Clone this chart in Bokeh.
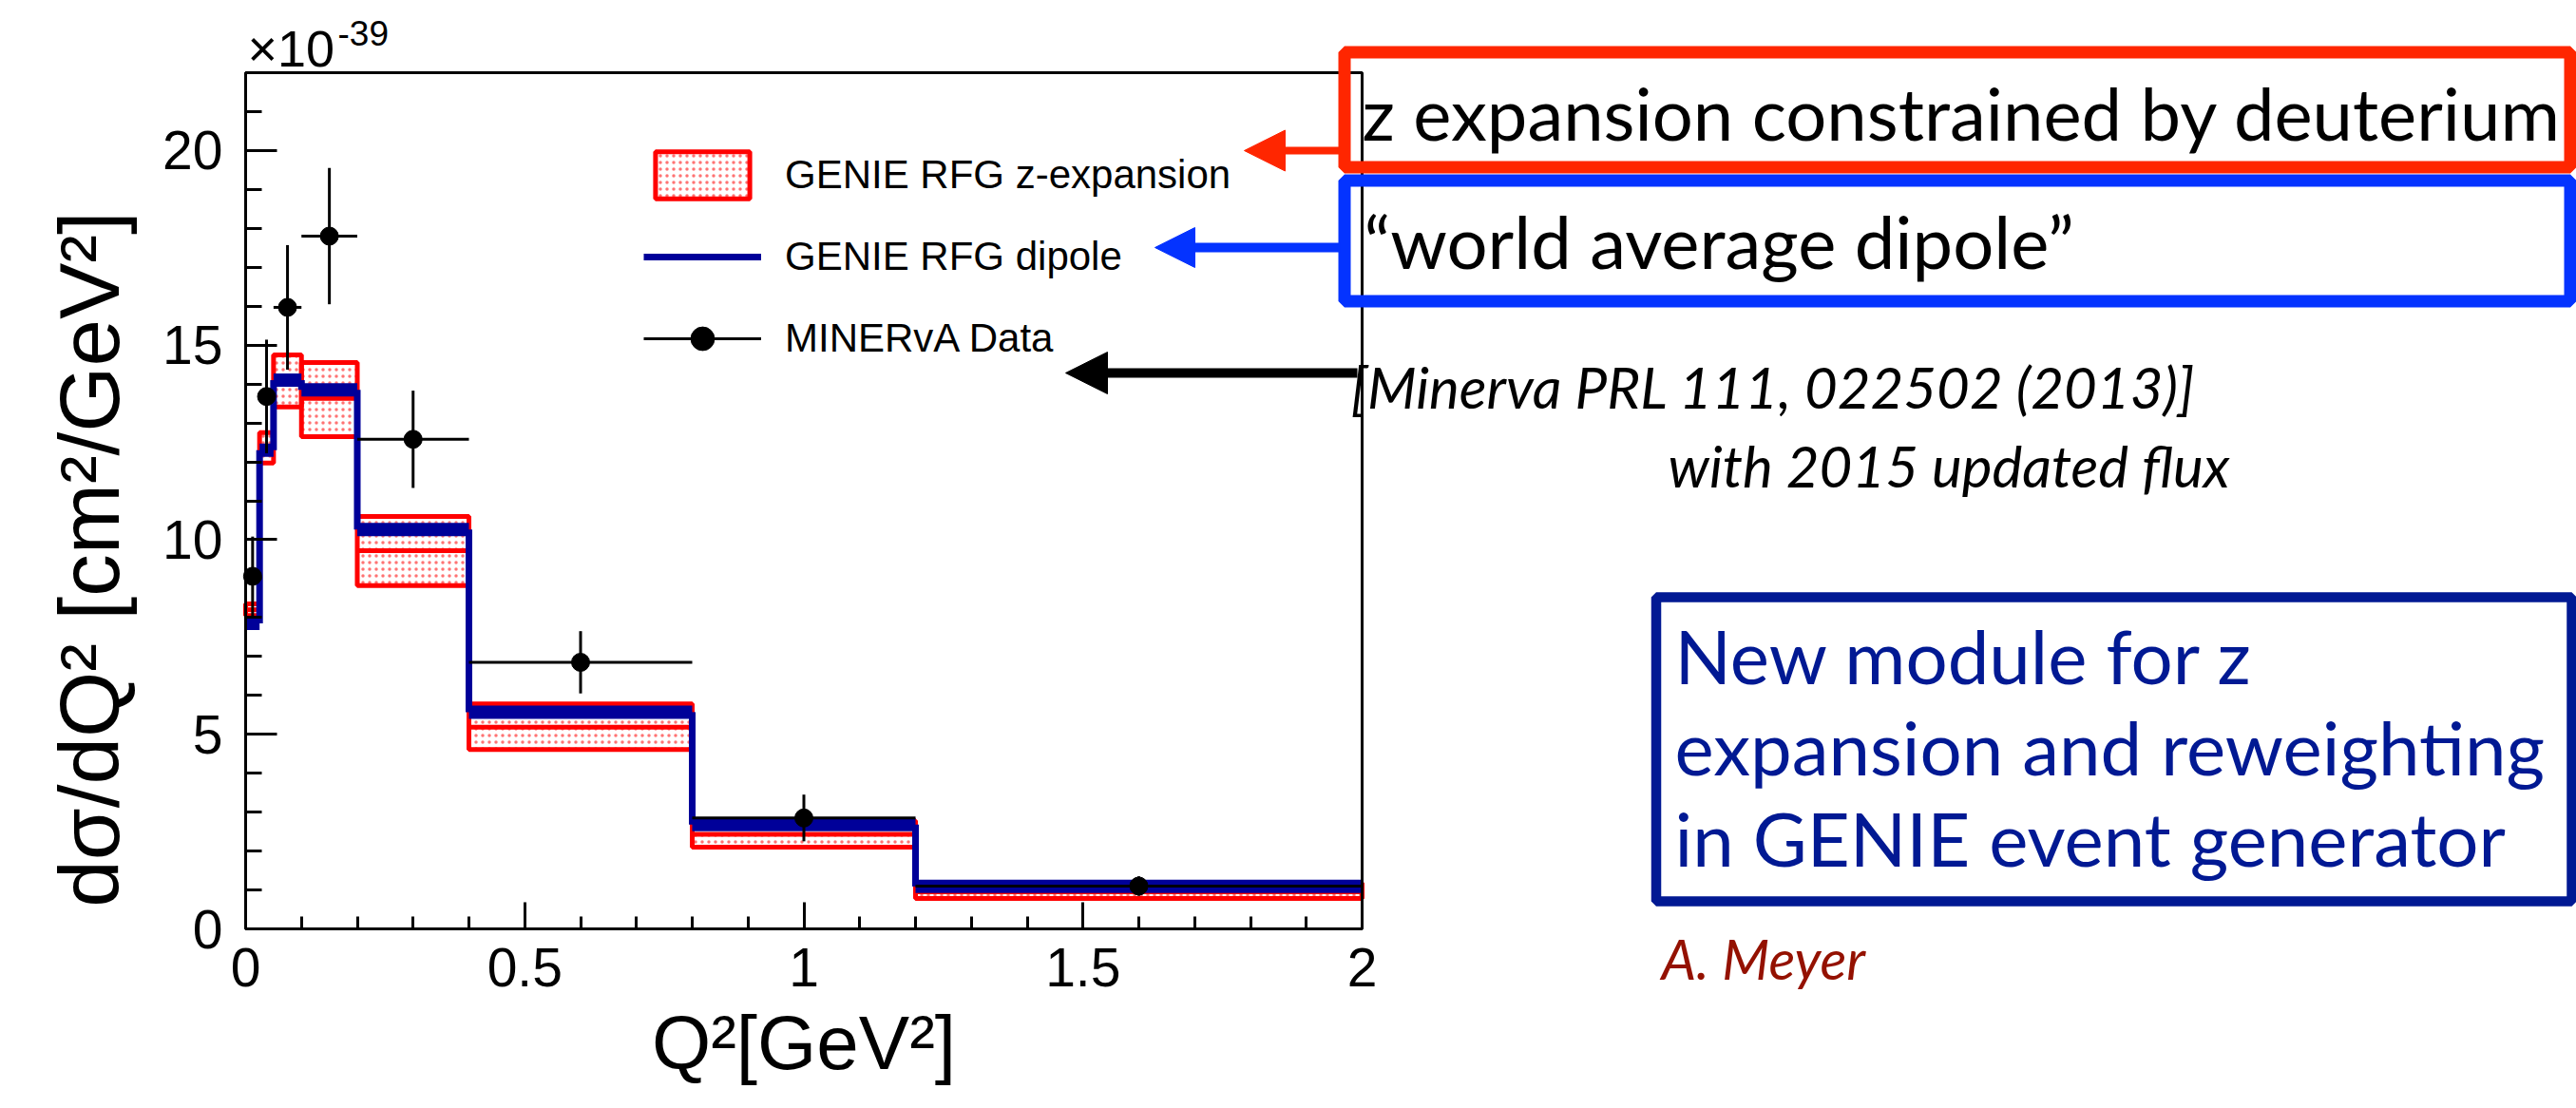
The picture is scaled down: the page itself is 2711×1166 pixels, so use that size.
from bokeh.plotting import figure
from bokeh.models import (Range1d, FixedTicker, Label, BoxAnnotation, Arrow,
                          NormalHead, Legend, LegendItem, ColumnDataSource, LinearAxis)
from bokeh.embed import file_html
from bokeh.resources import INLINE

# ---------------- data (x 1e-39 cm^2/GeV^2) ----------------
bin_edges = [0.0, 0.025, 0.05, 0.1, 0.2, 0.4, 0.8, 1.2, 2.0]
dipole = [7.85, 12.3, 14.1, 13.85, 10.26, 5.57, 2.68, 1.09]
zexp_upper = [8.35, 12.75, 14.75, 14.55, 10.6, 5.78, 2.78, 1.18]
zexp_central = [8.2, 12.4, 14.05, 13.63, 9.72, 5.18, 2.43, 0.95]
zexp_lower = [8.05, 11.97, 13.41, 12.65, 8.82, 4.61, 2.10, 0.78]
data_q2 = [0.0125, 0.0375, 0.075, 0.15, 0.3, 0.6, 1.0, 1.6]
data_xsec = [9.06, 13.68, 15.97, 17.8, 12.58, 6.85, 2.85, 1.1]
data_err = [1.02, 1.46, 1.6, 1.75, 1.25, 0.8, 0.6, 0.25]

x_ticks = [0, 0.5, 1, 1.5, 2]
x_tick_labels = ["0", "0.5", "1", "1.5", "2"]
y_ticks = [0, 5, 10, 15, 20]
y_tick_labels = ["0", "5", "10", "15", "20"]
x_min, x_max = 0, 2
y_min, y_max = 0, 22

# ---------------- layout (canvas pixels) ----------------
W, H = 2711, 1166
FL, FR, FT, FB = 258, 1433, 76, 977          # ROOT frame on the canvas
kx = (FR - FL) / (x_max - x_min)
ky = (FB - FT) / (y_max - y_min)
DESC = 0.213                                  # font descent (em) used to place baselines


def sx(X):
    return X


def sy(Y):
    return H - Y


ROOT_FONT = "Liberation Sans"
SLIDE_FONT = "Lato"
RED, BLUE, NAVY, CAY = "#FF2600", "#0433FF", "#011993", "#941100"

p = figure(width=W, height=H, output_backend="svg", toolbar_location=None,
           title=None,
           x_range=Range1d(x_min - FL / kx, x_max + (W - FR) / kx),
           y_range=Range1d(y_min - (H - FB) / ky, y_max + FT / ky),
           min_border=0, min_border_left=0, min_border_right=0,
           min_border_top=0, min_border_bottom=0,
           background_fill_color="white", border_fill_color="white")
p.grid.visible = False
p.outline_line_color = None

# axes (drawn at the ROOT frame edges, limited to the data span)
p.xaxis.fixed_location = y_min
p.yaxis.fixed_location = x_min
p.xaxis.bounds = (x_min, x_max)
p.yaxis.bounds = (y_min, y_max)
p.xaxis.ticker = FixedTicker(ticks=x_ticks, minor_ticks=[i / 10 for i in range(21)])
p.yaxis.ticker = FixedTicker(ticks=y_ticks, minor_ticks=list(range(23)))
p.xaxis.major_label_overrides = {t: s for t, s in zip(x_ticks, x_tick_labels)}
p.yaxis.major_label_overrides = {t: s for t, s in zip(y_ticks, y_tick_labels)}
for ax in (p.xaxis, p.yaxis):
    ax.axis_line_width = 3
    ax.major_tick_line_width = 3
    ax.minor_tick_line_width = 3
    ax.major_tick_out = 0
    ax.minor_tick_out = 0
    ax.major_label_text_font = ROOT_FONT
    ax.major_label_text_font_size = "57px"
    ax.major_label_text_color = "black"
    ax.axis_label_text_font = ROOT_FONT
    ax.axis_label_text_font_style = "normal"
    ax.axis_label_text_color = "black"
p.xaxis.axis_label_text_font_size = "80px"
p.xaxis.major_tick_in = 28
p.xaxis.minor_tick_in = 13
p.yaxis.major_tick_in = 33
p.yaxis.minor_tick_in = 17
p.xaxis.major_label_standoff = 20
p.yaxis.major_label_standoff = 24
p.xaxis.axis_label = "Q²[GeV²]"
p.xaxis.axis_label_standoff = 12

# y title carried by a label-only axis (ROOT places it a little below centre)
ytitle_axis = LinearAxis(fixed_location=x_min, bounds=(y_min, 19.0),
                         ticker=FixedTicker(ticks=[]),
                         axis_line_color=None, major_tick_line_color=None,
                         minor_tick_line_color=None, major_tick_out=0, minor_tick_out=0,
                         major_tick_in=0, minor_tick_in=0,
                         major_label_text_font_size="0px",
                         axis_label="dσ/dQ² [cm²/GeV²]", axis_label_standoff=115,
                         axis_label_text_font=ROOT_FONT, axis_label_text_font_size="89px",
                         axis_label_text_font_style="normal",
                         axis_label_text_color="black")
p.add_layout(ytitle_axis, "left")

# ROOT frame box
p.add_layout(BoxAnnotation(left=x_min, right=x_max, bottom=y_min, top=y_max,
                           fill_color=None, fill_alpha=0, line_color="black",
                           line_width=3, line_alpha=1))

# ---------------- glyphs ----------------
band_src = ColumnDataSource(dict(left=bin_edges[:-1], right=bin_edges[1:],
                                 top=zexp_upper, bottom=zexp_lower, mid=zexp_central))
band = p.quad(left="left", right="right", top="top", bottom="bottom", source=band_src,
              fill_color=None, hatch_pattern="dot", hatch_color="red", hatch_scale=7,
              hatch_weight=1.0, hatch_alpha=0.55, line_color="red", line_width=5)
p.segment(x0="left", x1="right", y0="mid", y1="mid", source=band_src,
          line_color="red", line_width=5)

DIP = "#000099"
dip_src = ColumnDataSource(dict(left=bin_edges[:-1], right=bin_edges[1:], y=dipole))
p.segment(x0="left", x1="right", y0="y", y1="y", source=dip_src,
          line_color=DIP, line_width=14)
step_src = ColumnDataSource(dict(x=bin_edges[1:-1], y0=dipole[:-1], y1=dipole[1:]))
dip_v = p.segment(x0="x", x1="x", y0="y0", y1="y1", source=step_src,
                  line_color=DIP, line_width=7)

dat_src = ColumnDataSource(dict(
    x=data_q2, y=data_xsec, left=bin_edges[:-1], right=bin_edges[1:],
    lo=[v - e for v, e in zip(data_xsec, data_err)],
    hi=[v + e for v, e in zip(data_xsec, data_err)]))
xerr = p.segment(x0="left", x1="right", y0="y", y1="y", source=dat_src,
                 line_color="black", line_width=3)
p.segment(x0="x", x1="x", y0="lo", y1="hi", source=dat_src,
          line_color="black", line_width=3)
pts = p.scatter(x="x", y="y", source=dat_src, size=19, marker="circle",
                fill_color="black", line_color="black")

legend = Legend(items=[
    LegendItem(label="GENIE RFG z-expansion", renderers=[band]),
    LegendItem(label="GENIE RFG dipole", renderers=[dip_v]),
    LegendItem(label="MINERvA Data", renderers=[xerr, pts]),
], location=(sx(677), sy(387)), glyph_width=124, glyph_height=62, spacing=24,
    padding=0, margin=0, label_standoff=25, label_text_font=ROOT_FONT,
    label_text_font_size="42px", label_text_baseline="middle",
    label_text_color="black",
    border_line_color=None, background_fill_alpha=0)
p.add_layout(legend)


def label(X, Y, s, size, font, color="black", style="normal"):
    # Y is the wanted baseline on the canvas
    p.add_layout(Label(x=sx(X), y=sy(Y + DESC * size), x_units="screen",
                       y_units="screen", text=s, text_font=font,
                       text_font_size=f"{size}px", text_font_style=style,
                       text_color=color, text_align="left",
                       text_baseline="bottom"))


# exponent of the y axis
label(260, 69, "×10", 54, ROOT_FONT)
label(355, 40, "-39", 37, ROOT_FONT)


# ---------------- slide annotations ----------------
def box(l, t, r, b, color, lw):
    p.add_layout(BoxAnnotation(left=sx(l), right=sx(r), top=sy(t), bottom=sy(b),
                               left_units="screen", right_units="screen",
                               top_units="screen", bottom_units="screen",
                               fill_alpha=0, fill_color=None,
                               line_color=color, line_width=lw, line_alpha=1))


box(1414.5, 54.5, 2704.5, 175.5, RED, 13)
box(1414.5, 189.5, 2704.5, 316.5, BLUE, 13)
box(1742.5, 628, 2706, 948, NAVY, 10.5)


def arrow(x0, x1, y, color, lw, size):
    p.add_layout(Arrow(end=NormalHead(size=size, fill_color=color, line_color=color,
                                      line_width=1),
                       x_start=sx(x0), y_start=sy(y), x_end=sx(x1), y_end=sy(y),
                       start_units="screen", end_units="screen",
                       line_color=color, line_width=lw))


arrow(1410, 1309, 158, RED, 8, 43)
arrow(1410, 1215, 260, BLUE, 10, 42)
arrow(1428, 1121, 392, "black", 10, 44)

label(1433, 147, "z expansion constrained by deuterium", 76, SLIDE_FONT)
label(1435, 282, "“world average dipole”", 76, SLIDE_FONT)
label(1421, 430, "[Minerva PRL 111, 022502 (2013)]", 60, SLIDE_FONT, style="italic")
label(1755, 513, "with 2015 updated flux", 60, SLIDE_FONT, style="italic")
label(1762, 720, "New module for z", 78, SLIDE_FONT, color=NAVY)
label(1762, 816, "expansion and reweighting", 78, SLIDE_FONT, color=NAVY)
label(1762, 912, "in GENIE event generator", 78, SLIDE_FONT, color=NAVY)
label(1748, 1030, "A. Meyer", 58, SLIDE_FONT, color=CAY, style="italic")

open("out.html", "w").write(file_html(p, INLINE))
